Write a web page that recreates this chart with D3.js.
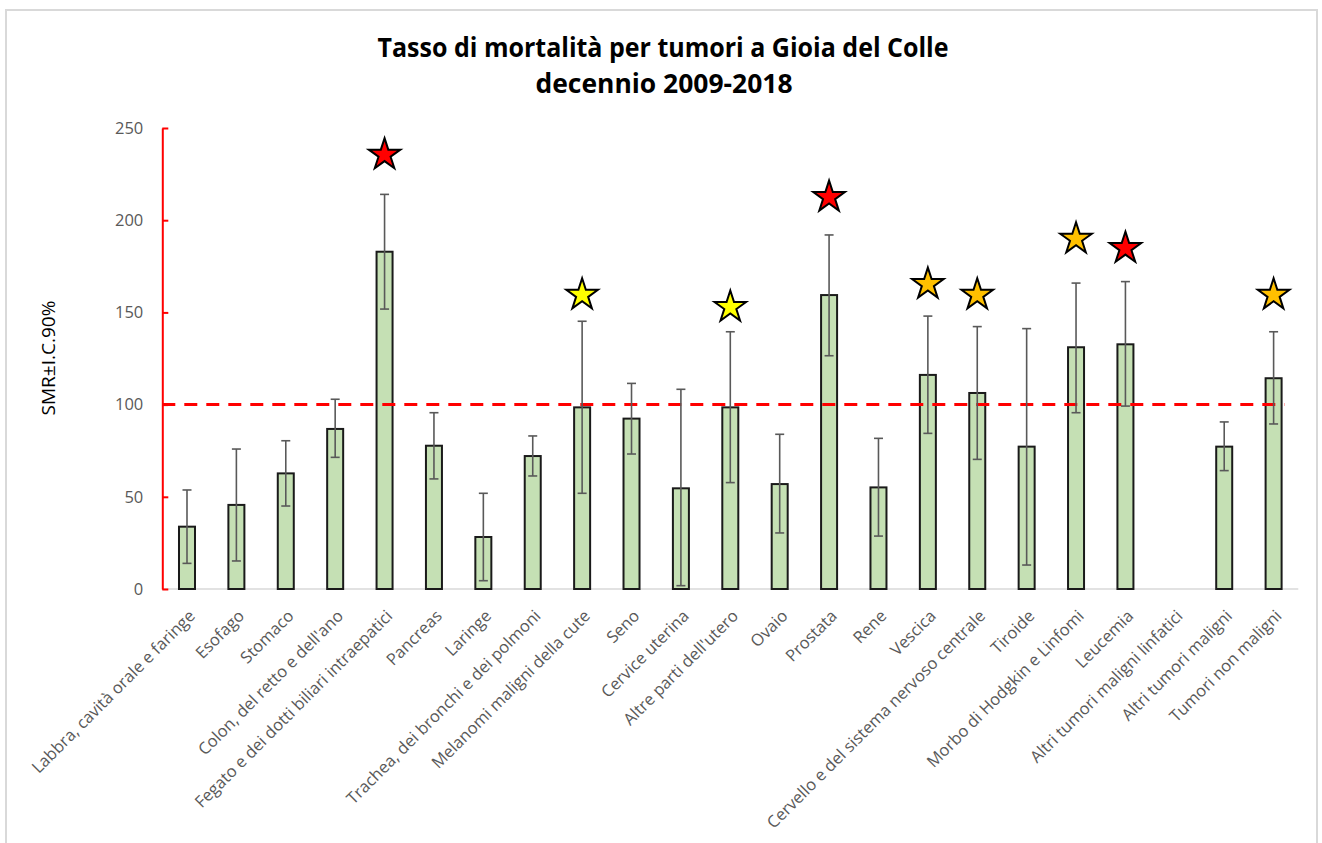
<!DOCTYPE html>
<html>
<head>
<meta charset="utf-8">
<script src="https://cdn.jsdelivr.net/npm/d3@7"></script>
<style>
  body { margin: 0; background: #fff; }
  text { font-family: "Open Sans", sans-serif; }
</style>
</head>
<body>
<div class="chart"></div>
<script>
// Tasso di mortalità per tumori - SMR with 90% CI

var categories = [
  "Labbra, cavità orale e faringe", "Esofago", "Stomaco", "Colon, del retto e dell'ano",
  "Fegato e dei dotti biliari intraepatici", "Pancreas", "Laringe",
  "Trachea, dei bronchi e dei polmoni", "Melanomi maligni della cute", "Seno",
  "Cervice uterina", "Altre parti dell'utero", "Ovaio", "Prostata", "Rene", "Vescica",
  "Cervello e del sistema nervoso centrale", "Tiroide", "Morbo di Hodgkin e Linfomi",
  "Leucemia", "Altri tumori maligni linfatici", "Altri tumori maligni", "Tumori non maligni"
];
var smr    = [33.8, 45.6, 62.7, 86.8, 182.9, 77.7, 28.2, 72.1, 98.5, 92.4, 54.6, 98.5, 56.9, 159.4, 55.1, 116.1, 106.3, 77.2, 131.1, 132.7, null, 77.2, 114.3];
var ciLow  = [13.9, 15.2, 45.0, 71.4, 151.8, 59.7, 4.5, 61.3, 51.9, 73.2, 1.8, 57.7, 30.4, 126.5, 28.7, 84.4, 70.3, 13.0, 95.6, 99.2, null, 64.2, 89.5];
var ciHigh = [53.7, 75.9, 80.4, 102.9, 214.0, 95.6, 51.9, 83.0, 145.2, 111.5, 108.3, 139.5, 83.9, 192.0, 81.7, 148.0, 142.3, 141.2, 165.9, 166.7, null, 90.6, 139.5];
// star markers: level on the SMR scale and colour (null = no star)
var starLevel = [null, null, null, null, 236.3, null, null, null, 160.3, null, null, 153.7, null, 213.3, null, 166.1, 160.3, null, 190.7, 185.6, null, null, 160.3];
var starColor = [null, null, null, null, "#ff0000", null, null, null, "#ffff00", null, null, "#ffff00", null, "#ff0000", null, "#ffc000", "#ffc000", null, "#ffc000", "#ff0000", null, null, "#ffc000"];
var yTicks = [0, 50, 100, 150, 200, 250];
var reference = 100;

var svgWidth = 1322;
var svgHeight = 843;

var svg = d3.select(".chart")
  .append("svg")
  .attr("width", svgWidth)
  .attr("height", svgHeight);

// chart area frame
svg.append("rect")
  .attr("x", 6)
  .attr("y", 10)
  .attr("width", 1311)
  .attr("height", 850)
  .attr("fill", "#fff")
  .attr("stroke", "#d9d9d9")
  .attr("stroke-width", 2);

// title
var title = svg.append("text")
  .attr("text-anchor", "middle")
  .attr("font-weight", "bold")
  .attr("font-size", 26)
  .attr("fill", "#000");
title.append("tspan")
  .attr("x", 663).attr("y", 57)
  .attr("textLength", 571).attr("lengthAdjust", "spacingAndGlyphs")
  .text("Tasso di mortalità per tumori a Gioia del Colle");
title.append("tspan")
  .attr("x", 664).attr("y", 93)
  .attr("textLength", 257).attr("lengthAdjust", "spacingAndGlyphs")
  .text("decennio 2009-2018");

var data = categories.map(function(c, i) {
  return { name: c, smr: smr[i], lo: ciLow[i], hi: ciHigh[i], star: starLevel[i], color: starColor[i] };
});

var x = d3.scaleBand()
  .domain(categories)
  .range([162.3, 1298.3])
  .padding(0);

var y = d3.scaleLinear()
  .domain([0, 250])
  .range([589, 128]);

var cx = function(d) { return x(d.name) + x.bandwidth() / 2; };
var barW = 16;

// x axis baseline
svg.append("line")
  .attr("x1", x.range()[0]).attr("x2", x.range()[1])
  .attr("y1", y(0)).attr("y2", y(0))
  .attr("stroke", "#d9d9d9")
  .attr("stroke-width", 1.5);

// bars
var withData = data.filter(function(d) { return d.smr != null; });

svg.append("g").selectAll("rect")
  .data(withData)
  .enter()
  .append("rect")
  .attr("x", d => cx(d) - barW / 2)
  .attr("y", d => y(d.smr))
  .attr("width", barW)
  .attr("height", d => y(0) - y(d.smr))
  .attr("fill", "#c5e0b4")
  .attr("stroke", "#1a1a1a")
  .attr("stroke-width", 2);

// reference line at 100
svg.append("line")
  .attr("x1", x.range()[0])
  .attr("x2", cx(data[data.length - 1]) + 11)
  .attr("y1", y(reference)).attr("y2", y(reference))
  .attr("stroke", "#ff0000")
  .attr("stroke-width", 3)
  .attr("stroke-dasharray", "13,9");

// error bars
var err = svg.append("g")
  .attr("stroke", "#595959")
  .attr("stroke-width", 1.6);

err.selectAll(".stem")
  .data(withData)
  .enter()
  .append("line")
  .attr("x1", cx).attr("x2", cx)
  .attr("y1", d => y(d.lo)).attr("y2", d => y(d.hi));

err.selectAll(".capHi")
  .data(withData)
  .enter()
  .append("line")
  .attr("x1", d => cx(d) - 4.5).attr("x2", d => cx(d) + 4.5)
  .attr("y1", d => y(d.hi)).attr("y2", d => y(d.hi));

err.selectAll(".capLo")
  .data(withData)
  .enter()
  .append("line")
  .attr("x1", d => cx(d) - 4.5).attr("x2", d => cx(d) + 4.5)
  .attr("y1", d => y(d.lo)).attr("y2", d => y(d.lo));

// y axis (red)
var leftAxis = d3.axisLeft(y)
  .tickValues(yTicks)
  .tickSizeInner(-6)
  .tickSizeOuter(0)
  .tickPadding(19);

var yAxis = svg.append("g")
  .attr("transform", `translate(${x.range()[0]}, 0)`)
  .call(leftAxis);

yAxis.select(".domain")
  .attr("stroke", "#ff0000")
  .attr("stroke-width", 2);
yAxis.selectAll(".tick line")
  .attr("stroke", "#ff0000")
  .attr("stroke-width", 2);
yAxis.selectAll(".tick text")
  .attr("fill", "#595959")
  .attr("font-size", 16.5)
  .attr("font-family", "Open Sans, sans-serif");

// x labels, rotated
svg.append("g").selectAll("text")
  .data(data)
  .enter()
  .append("text")
  .attr("transform", d => `translate(${cx(d) + 9}, 617) rotate(-45)`)
  .attr("text-anchor", "end")
  .attr("font-size", 16.5)
  .attr("fill", "#595959")
  .text(d => d.name);

// stars
var star = d3.symbol().type(d3.symbolStar).size(310);

svg.append("g").selectAll("path")
  .data(data.filter(function(d) { return d.star != null; }))
  .enter()
  .append("path")
  .attr("d", star)
  .attr("transform", d => `translate(${cx(d)}, ${y(d.star) + 1.5})`)
  .attr("fill", d => d.color)
  .attr("stroke", "#000")
  .attr("stroke-width", 2)
  .attr("stroke-linejoin", "miter");

// y axis title
svg.append("text")
  .attr("transform", "translate(55, 358) rotate(-90)")
  .attr("text-anchor", "middle")
  .attr("font-size", 19)
  .attr("fill", "#000")
  .text("SMR±I.C.90%");
</script>
</body>
</html>
